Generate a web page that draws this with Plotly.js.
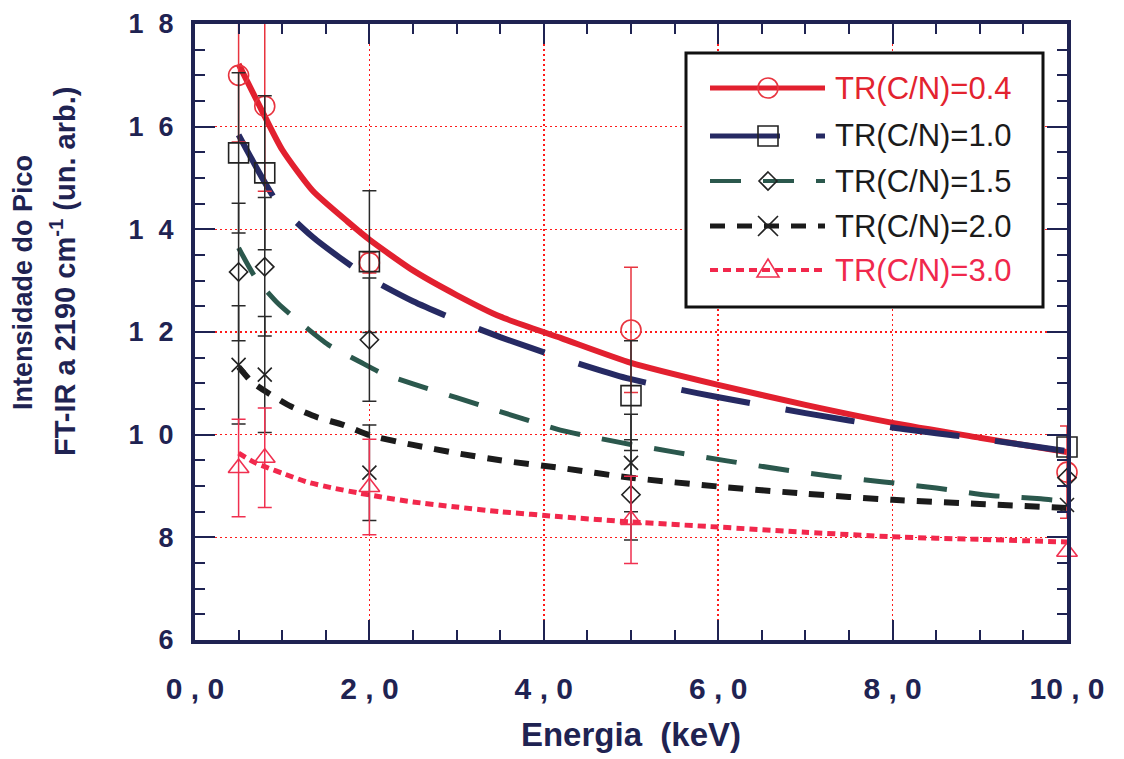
<!DOCTYPE html>
<html><head><meta charset="utf-8">
<script src="https://cdn.plot.ly/plotly-3.0.1.min.js"></script>
<style>html,body{margin:0;padding:0;background:#fff}#chart{width:1124px;height:759px}</style>
</head><body><div id="chart"></div>
<script>
// ---------- data ----------
const seriesNames = ['TR(C/N)=0.4', 'TR(C/N)=1.0', 'TR(C/N)=1.5', 'TR(C/N)=2.0', 'TR(C/N)=3.0'];
const energy = [0.5, 0.8, 2.0, 5.0, 10.0];

const peak04 = [17.0, 16.4, 13.35, 12.04, 9.27];
const errUp04 = [1.05, 2.3, 0.2, 1.22, 0.9];
const errDn04 = [1.3, 1.66, 0.2, 1.22, 0.9];

const peak10 = [15.49, 15.1, 13.37, 10.76, 9.76];
const errUp10 = [1.56, 1.5, 1.38, 1.07, NaN];
const errDn10 = [1.56, 1.5, 1.38, 1.07, NaN];

const peak15 = [13.17, 13.27, 11.85, 8.83, 9.16];
const errUp15 = [1.34, 1.35, 1.2, 1.07, NaN];
const errDn15 = [1.34, 1.35, 1.2, 0.88, NaN];

const peak20 = [11.36, 11.17, 9.26, 9.45, 8.63];
const errUp20 = [1.15, 1.13, 0.93, 0.95, NaN];
const errDn20 = [1.15, 1.13, 0.93, 0.95, NaN];

const peak30 = [9.35, 9.55, 8.98, 8.34, 7.72];
const errUp30 = [0.95, 0.97, 0.93, 0.85, NaN];
const errDn30 = [0.95, 0.97, 0.93, 0.85, NaN];

// fitted curves
const fitE04 = [0.5, 0.8, 1.0, 1.35, 1.75, 2.0, 2.5, 3.0, 3.5, 4.2, 5.0, 6.0, 7.0, 8.0, 9.0, 10.0];
const fitI04 = [17.22, 16.2, 15.55, 14.75, 14.15, 13.8, 13.2, 12.72, 12.3, 11.88, 11.4, 10.97, 10.58, 10.23, 9.94, 9.66];

const fitE10 = [0.5, 0.95, 1.35, 1.66, 2.0, 2.5, 3.0, 3.5, 4.2, 4.95, 5.76, 6.16, 7.0, 8.0, 9.0, 10.0];
const fitI10 = [15.84, 14.51, 13.85, 13.45, 13.05, 12.6, 12.23, 11.9, 11.49, 11.1, 10.81, 10.68, 10.42, 10.14, 9.92, 9.68];

const fitE15 = [0.5, 0.69, 0.95, 1.28, 1.53, 1.89, 2.14, 2.5, 3.0, 3.5, 4.19, 4.9, 5.5, 6.1, 6.7, 7.3, 7.9, 8.5, 9.1, 9.7, 10.0];
const fitI15 = [13.64, 13.07, 12.56, 12.08, 11.75, 11.42, 11.2, 10.99, 10.72, 10.45, 10.09, 9.84, 9.66, 9.49, 9.33, 9.19, 9.08, 8.96, 8.82, 8.75, 8.7];

const fitE20 = [0.5, 0.65, 0.83, 1.1, 1.4, 1.7, 2.0, 2.5, 3.0, 3.5, 4.2, 5.0, 6.0, 7.0, 8.0, 9.0, 10.0];
const fitI20 = [11.32, 11.03, 10.82, 10.55, 10.34, 10.19, 9.99, 9.8, 9.64, 9.5, 9.35, 9.16, 8.99, 8.85, 8.73, 8.65, 8.57];

const fitE30 = [0.5, 0.67, 0.84, 1.0, 1.28, 1.58, 1.89, 2.12, 2.5, 3.0, 3.5, 4.2, 5.0, 6.0, 7.0, 8.0, 9.0, 10.0];
const fitI30 = [9.64, 9.47, 9.35, 9.25, 9.08, 8.96, 8.86, 8.79, 8.69, 8.59, 8.5, 8.4, 8.3, 8.2, 8.1, 8.01, 7.96, 7.91];

const xTickVals = [0, 2, 4, 6, 8, 10];
const xTickText = ['0 , 0', '2 , 0', '4 , 0', '6 , 0', '8 , 0', '10 , 0'];
const yTickVals = [6, 8, 10, 12, 14, 16, 18];
const yTickText = ['6', '8', '1\u00a0\u00a00', '1\u00a0\u00a02', '1\u00a0\u00a04', '1\u00a0\u00a06', '1\u00a0\u00a08'];

const xTitle = 'Energia\u00a0\u00a0(keV)';
const yTitle1 = 'Intensidade do Pico';
const yTitle2 = 'FT-IR a 2190 cm<sup>-1</sup> (un. arb.)';

// ---------- styles ----------
const navy = '#1f2352';
const cRed = '#e2202f', cNavy = '#262a63', cTeal = '#2b584d', cBlack = '#1b1b1b', cPink = '#f2284c';
const styles = [
  {color: cRed,   dash: 'solid',     width: 6, symbol: 'circle-open',      size: 20, mcolor: '#e8343f', ecolor: '#e8343f', text: '#e3232f'},
  {color: cNavy,  dash: '70px,36px', width: 6, symbol: 'square-open',      size: 20, mcolor: '#222',    ecolor: '#2a2a2a', text: '#1b1b1b'},
  {color: cTeal,  dash: '31px,22px', width: 5, symbol: 'diamond-open',     size: 14, mcolor: '#222',    ecolor: '#2a2a2a', text: '#1b1b1b'},
  {color: cBlack, dash: '15px,12px', width: 6, symbol: 'x-thin-open',      size: 14, mcolor: '#222',    ecolor: '#2a2a2a', text: '#1b1b1b'},
  {color: cPink,  dash: '8px,5px',   width: 5, symbol: 'triangle-up-open', size: 18, mcolor: '#f03050', ecolor: '#f03050', text: '#f0284c'}
];

const peaks = [peak04, peak10, peak15, peak20, peak30];
const ups = [errUp04, errUp10, errUp15, errUp20, errUp30];
const dns = [errDn04, errDn10, errDn15, errDn20, errDn30];
const fitE = [fitE04, fitE10, fitE15, fitE20, fitE30];
const fitI = [fitI04, fitI10, fitI15, fitI20, fitI30];

const traces = [];
[4, 3, 2, 0, 1].forEach(i => {
  const s = styles[i];
  traces.push({
    type: 'scatter', mode: 'lines', x: fitE[i], y: fitI[i], name: seriesNames[i],
    line: {color: s.color, width: s.width, dash: s.dash, shape: 'spline', smoothing: 0.6},
    showlegend: false, hoverinfo: 'skip'
  });
});
[0, 1, 2, 3, 4].forEach(i => {
  const s = styles[i];
  traces.push({
    type: 'scatter', mode: 'markers', x: energy, y: peaks[i], name: seriesNames[i],
    marker: {symbol: s.symbol, size: s.size, color: s.mcolor, line: {width: 1.6, color: s.mcolor}},
    error_y: {type: 'data', symmetric: false, array: ups[i], arrayminus: dns[i], color: s.ecolor, thickness: 1.5, width: 7},
    showlegend: false, cliponaxis: false
  });
});

// ---------- custom legend (paper coordinates from pixel layout) ----------
const L = 195, R = 1067, T = 24, B = 640;
const P = px => (px - L) / (R - L);
const Q = py => (B - py) / (B - T);
const rows = [88, 136, 181, 226, 270];
const shapes = [{
  type: 'rect', xref: 'paper', yref: 'paper', x0: P(686), x1: P(1043), y0: Q(307), y1: Q(53),
  line: {color: '#111', width: 3}, fillcolor: 'white', layer: 'above'
}];
const annotations = [];
rows.forEach((ry, i) => {
  const s = styles[i];
  shapes.push({type: 'line', xref: 'paper', yref: 'paper', x0: P(710), x1: P(825), y0: Q(ry), y1: Q(ry),
    line: {color: s.color, width: s.width - 1, dash: s.dash}, layer: 'above'});
  const cx = 768, mc = s.mcolor, ml = {color: mc, width: 1.6};
  if (i === 0) shapes.push({type: 'circle', xref: 'paper', yref: 'paper', x0: P(cx - 10), x1: P(cx + 10), y0: Q(ry + 10), y1: Q(ry - 10), line: ml, layer: 'above'});
  if (i === 1) shapes.push({type: 'rect', xref: 'paper', yref: 'paper', x0: P(cx - 10), x1: P(cx + 10), y0: Q(ry + 10), y1: Q(ry - 10), line: ml, layer: 'above'});
  if (i === 2) shapes.push({type: 'path', xref: 'paper', yref: 'paper', layer: 'above', line: ml,
    path: `M ${P(cx)} ${Q(ry - 9)} L ${P(cx + 9)} ${Q(ry)} L ${P(cx)} ${Q(ry + 9)} L ${P(cx - 9)} ${Q(ry)} Z`});
  if (i === 3) shapes.push({type: 'path', xref: 'paper', yref: 'paper', layer: 'above', line: ml,
    path: `M ${P(cx - 10)} ${Q(ry - 10)} L ${P(cx + 10)} ${Q(ry + 10)} M ${P(cx + 10)} ${Q(ry - 10)} L ${P(cx - 10)} ${Q(ry + 10)}`});
  if (i === 4) shapes.push({type: 'path', xref: 'paper', yref: 'paper', layer: 'above', line: ml,
    path: `M ${P(cx - 11)} ${Q(ry + 7)} L ${P(cx + 11)} ${Q(ry + 7)} L ${P(cx)} ${Q(ry - 11)} Z`});
  annotations.push({xref: 'paper', yref: 'paper', x: P(833), y: Q(ry), xanchor: 'left', yanchor: 'middle',
    text: seriesNames[i], showarrow: false, font: {family: 'Liberation Sans, Arial, sans-serif', size: 31, color: s.text}});
});
// y title (two lines)
annotations.push({xref: 'paper', yref: 'paper', x: P(23), y: Q(283), xanchor: 'center', yanchor: 'middle', textangle: -90,
  text: yTitle1, showarrow: false, font: {family: 'Liberation Sans, Arial, sans-serif', size: 27, color: navy, weight: 'bold'}});
annotations.push({xref: 'paper', yref: 'paper', x: P(63), y: Q(272), xanchor: 'center', yanchor: 'middle', textangle: -90,
  text: yTitle2, showarrow: false, font: {family: 'Liberation Sans, Arial, sans-serif', size: 29, color: navy, weight: 'bold'}});

const axisCommon = {
  showline: true, linewidth: 4, linecolor: navy, mirror: 'allticks',
  ticks: 'inside', ticklen: 20, tickwidth: 2, tickcolor: navy,
  showgrid: true, gridcolor: '#ff1a1a', griddash: '2px,3px', gridwidth: 1.6,
  zeroline: false, tickmode: 'array',
  minor: {tickmode: 'linear', tick0: 0, dtick: 0.5, ticks: 'inside', ticklen: 10, tickwidth: 2, tickcolor: navy, showgrid: false}
};

const layout = {
  width: 1124, height: 759,
  margin: {l: L, r: 1124 - R, t: T, b: 759 - B},
  paper_bgcolor: 'white', plot_bgcolor: 'white',
  showlegend: false,
  xaxis: Object.assign({}, axisCommon, {
    range: [0, 10], tickvals: xTickVals, ticktext: xTickText,
    tickfont: {family: 'Liberation Sans, Arial, sans-serif', size: 30, color: navy, weight: 'bold'},
    ticklabelstandoff: 19,
    title: {text: xTitle, standoff: 20, font: {family: 'Liberation Sans, Arial, sans-serif', size: 33, color: navy, weight: 'bold'}}
  }),
  yaxis: Object.assign({}, axisCommon, {
    range: [6, 18], tickvals: yTickVals, ticktext: yTickText,
    tickfont: {family: 'Liberation Sans, Arial, sans-serif', size: 27, color: navy, weight: 'bold'},
    ticklabelstandoff: 12
  }),
  shapes: shapes,
  annotations: annotations
};

Plotly.newPlot('chart', traces, layout, {staticPlot: true, displayModeBar: false});
</script>
</body></html>
